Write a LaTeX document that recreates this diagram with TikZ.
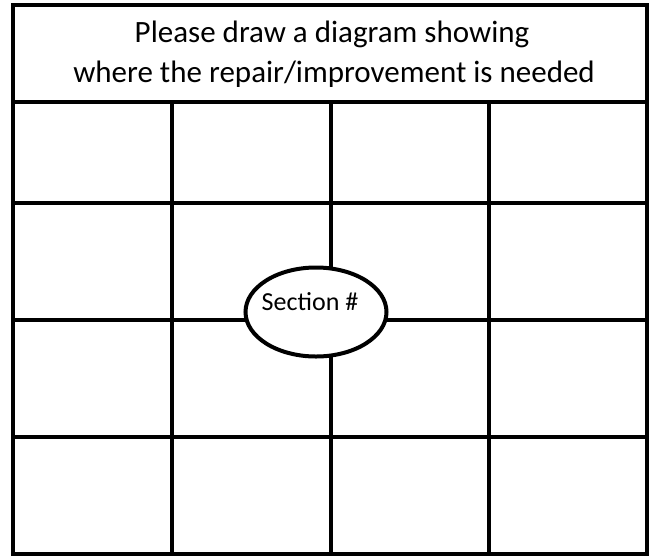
\documentclass[tikz,border=0pt]{standalone}
\usepackage{fontspec}
\setmainfont{Carlito}
\usetikzlibrary{shapes.geometric}

\begin{document}
\begin{tikzpicture}[
    x=1pt, y=-1pt,
    gridline/.style={line width=3.5pt},
    title/.style={anchor=base, font=\fontsize{31}{38}\selectfont, inner sep=0pt},
    sect/.style={draw, ellipse, line width=4pt, fill=white, minimum width=141pt, minimum height=89pt, inner sep=0pt}
]
    \useasboundingbox (0,0) rectangle (660,555);
    % table frame and header
    \draw[gridline] (13,5) rectangle (647,554);
    \draw[gridline] (13,102) -- (647,102);
    % grid
    \foreach \y in {203,320,437} \draw[gridline] (13,\y) -- (647,\y);
    \foreach \x in {172,331,489} \draw[gridline] (\x,102) -- (\x,554);
    \node[title] (line1) at (332,42) {Please draw a diagram showing};
    \node[title] (line2) at (334,82) {where the repair/improvement is needed};
    \node[sect] (sect) at (316,312) {};
    \node[font=\fontsize{26}{30}\selectfont, inner sep=0pt] (sectlabel) at (310,302) {Section \#};
\end{tikzpicture}
\end{document}
